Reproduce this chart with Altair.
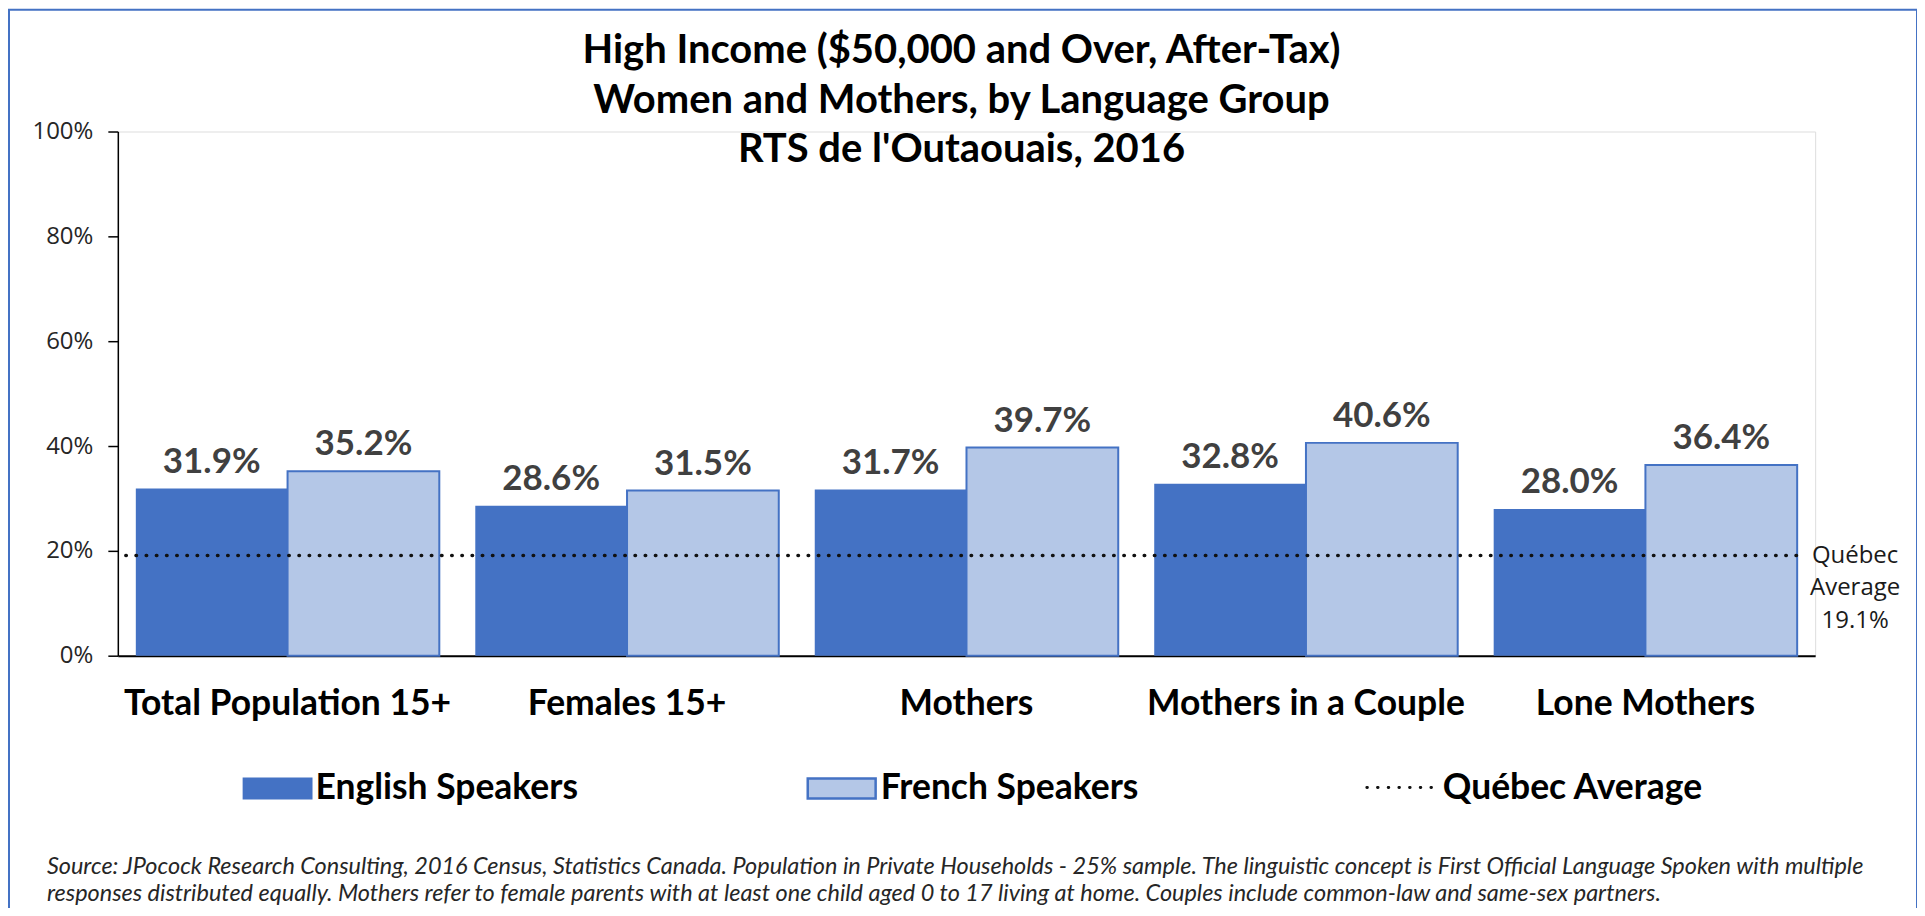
import altair as alt
import pandas as pd

CATEGORIES = ["Total Population 15+", "Females 15+", "Mothers", "Mothers in a Couple", "Lone Mothers"]
SERIES = ["English Speakers", "French Speakers"]
ENGLISH = [31.9, 28.6, 31.7, 32.8, 28.0]
FRENCH = [35.2, 31.5, 39.7, 40.6, 36.4]
QUEBEC_AVG = 19.1
AVG_LEGEND = "Québec Average"
AVG_NOTE = ["Québec", "Average", "19.1%"]
Y_TICKS = [0, 20, 40, 60, 80, 100]
TITLE_LINES = [
    "High Income ($50,000 and Over, After-Tax)",
    "Women and Mothers, by Language Group",
    "RTS de l'Outaouais, 2016",
]
SOURCE_LINES = [
    "Source: JPocock Research Consulting, 2016 Census, Statistics Canada. Population in Private Households - 25% sample. The linguistic concept is First Official Language Spoken with multiple",
    "responses distributed equally. Mothers refer to female parents with at least one child aged 0 to 17 living at home. Couples include common-law and same-sex partners.",
]

BLUE = "#4472C4"
LIGHT = "#B4C7E7"

rows = []
for i, c in enumerate(CATEGORIES):
    rows.append({"cat": c, "series": SERIES[0], "value": ENGLISH[i] / 100})
    rows.append({"cat": c, "series": SERIES[1], "value": FRENCH[i] / 100})
df = pd.DataFrame(rows)
df["label"] = df["value"].map(lambda v: f"{v * 100:.1f}%")

one = pd.DataFrame({"k": [0]})

x_enc = alt.X(
    "cat:N", sort=CATEGORIES,
    scale=alt.Scale(paddingInner=0.106, paddingOuter=0.053),
    axis=alt.Axis(title=None, labelAngle=0, labelFont="Lato", labelFontWeight="bold",
                  labelFontSize=35.5, labelColor="black", ticks=False, tickSize=0,
                  labelPadding=59, labelBaseline="alphabetic", labelLimit=600,
                  domainColor="black", domainWidth=2),
)
y_enc = alt.Y(
    "value:Q", scale=alt.Scale(domain=[0, 1]),
    axis=alt.Axis(values=[t / 100 for t in Y_TICKS], format=".0%", title=None, grid=False,
                  tickSize=10, tickColor="black", tickWidth=1.5, domainColor="black",
                  domainWidth=1.5, labelFont="Open Sans", labelFontSize=24,
                  labelColor="#262626", labelPadding=15),
)
xo_enc = alt.XOffset("series:N", sort=SERIES, scale=alt.Scale(paddingInner=0, paddingOuter=0))

bars = alt.Chart(df).mark_bar(stroke=BLUE).encode(
    x=x_enc, y=y_enc, xOffset=xo_enc,
    color=alt.Color("series:N", scale=alt.Scale(domain=SERIES, range=[BLUE, LIGHT]), legend=None),
    strokeWidth=alt.condition(alt.datum.series == SERIES[1], alt.value(2), alt.value(0)),
)

labels = alt.Chart(df).mark_text(
    font="Lato", fontWeight="bold", fontSize=35, color="#404040",
    baseline="alphabetic", dy=-16,
).encode(x=x_enc, y=alt.Y("value:Q"), xOffset=xo_enc, text="label:N")

avg_rule = alt.Chart(one).mark_rule(
    color="#111111", strokeWidth=3.5, strokeDash=[0.5, 9.7], strokeCap="round"
).encode(y=alt.Y(datum=QUEBEC_AVG / 100), x=alt.value(8), x2=alt.value(1682))

avg_note = alt.Chart(one).mark_text(
    font="Open Sans", fontSize=24, color="#1a1a1a", lineBreak="\n", lineHeight=33,
    baseline="middle", align="center",
).encode(y=alt.Y(datum=QUEBEC_AVG / 100), x=alt.value(1740), text=alt.value("\n".join(AVG_NOTE)))

title = alt.Chart(one).mark_text(
    font="Lato", fontSize=40, fontWeight="bold", color="black", lineBreak="\n",
    lineHeight=50, baseline="alphabetic", align="center",
).encode(x=alt.value(845), y=alt.value(-69), text=alt.value("\n".join(TITLE_LINES)))

# legend
leg_font = dict(font="Lato", fontWeight="bold", fontSize=35.5, color="black", baseline="alphabetic", align="left")
sw_en = alt.Chart(one).mark_rect(color=BLUE).encode(
    x=alt.value(125), x2=alt.value(195), y=alt.value(647), y2=alt.value(669))
sw_fr = alt.Chart(one).mark_rect(fill=LIGHT, stroke=BLUE, strokeWidth=2.5).encode(
    x=alt.value(691), x2=alt.value(759), y=alt.value(648), y2=alt.value(668))
sw_avg = alt.Chart(one).mark_rule(
    color="#111111", strokeWidth=3, strokeDash=[0.5, 10.2], strokeCap="round"
).encode(x=alt.value(1251), x2=alt.value(1316), y=alt.value(657))
t_en = alt.Chart(one).mark_text(**leg_font).encode(x=alt.value(198), y=alt.value(669), text=alt.value(SERIES[0]))
t_fr = alt.Chart(one).mark_text(**leg_font).encode(x=alt.value(764), y=alt.value(669), text=alt.value(SERIES[1]))
t_avg = alt.Chart(one).mark_text(**leg_font).encode(x=alt.value(1327), y=alt.value(669), text=alt.value(AVG_LEGEND))

source = alt.Chart(one).mark_text(
    font="Lato", fontStyle="italic", fontSize=23.5, color="#262626", align="left",
    baseline="alphabetic", lineBreak="\n", lineHeight=27,
).encode(x=alt.value(-71), y=alt.value(744), text=alt.value("\n".join(SOURCE_LINES)))

frame = alt.Chart(one).mark_rect(fill=None, stroke=BLUE, strokeWidth=2).encode(
    x=alt.value(-109), x2=alt.value(1802), y=alt.value(-122), y2=alt.value(1000))

chart = alt.layer(
    frame, bars, avg_rule, labels, avg_note, title, sw_en, sw_fr, sw_avg, t_en, t_fr, t_avg, source
).properties(
    width=1700, height=525,
    autosize=alt.AutoSizeParams(type="none"),
    padding={"left": 110, "top": 123, "right": 102, "bottom": 252},
).configure_view(stroke=None).configure(background="white")

chart.save("out.html", embed_options={"renderer": "svg", "actions": False})
